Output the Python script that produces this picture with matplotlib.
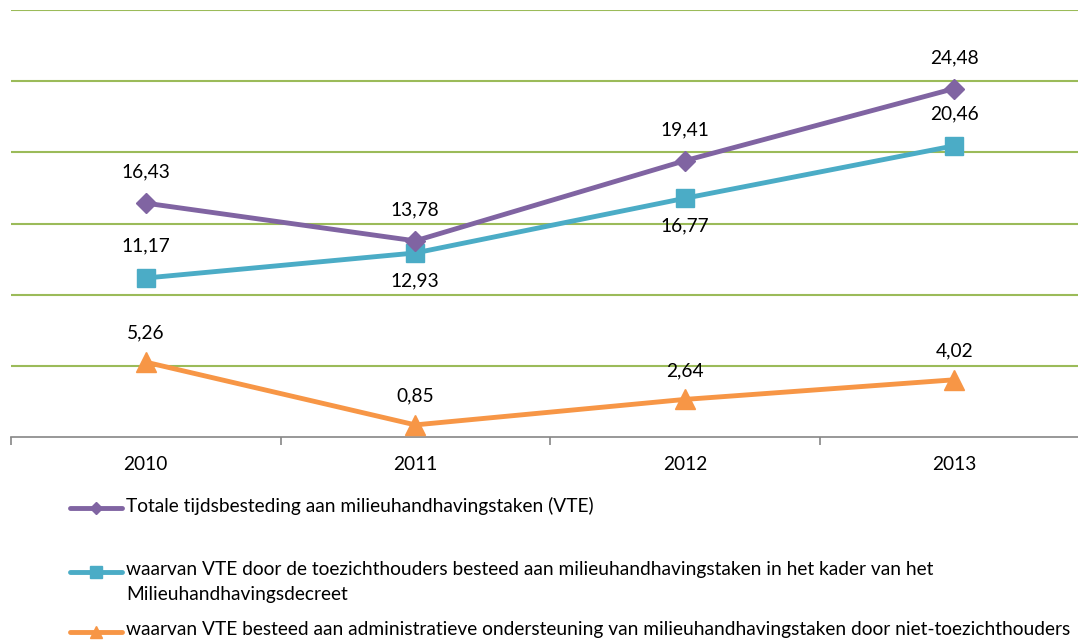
import numpy as np
import matplotlib.pyplot as plt
from matplotlib.lines import Line2D

plt.rcParams['font.family'] = ['Lato', 'DejaVu Sans']

years = ['2010', '2011', '2012', '2013']
totaal = [16.43, 13.78, 19.41, 24.48]
toezicht = [11.17, 12.93, 16.77, 20.46]
admin = [5.26, 0.85, 2.64, 4.02]

names = ['Totale tijdsbesteding aan milieuhandhavingstaken (VTE)',
         'waarvan VTE door de toezichthouders besteed aan milieuhandhavingstaken in het kader van het\nMilieuhandhavingsdecreet',
         'waarvan VTE besteed aan administratieve ondersteuning van milieuhandhavingstaken door niet-toezichthouders']

purple = '#8064A2'
teal = '#4BACC6'
orange = '#F79646'
fs = 13.8

W, H = 1078, 642
fig = plt.figure(figsize=(W / 100, H / 100), dpi=100)
ax = fig.add_axes([11 / W, (H - 437) / H, 1078 / W, 427 / H])

x = np.arange(len(years))
ax.plot(x, totaal, color=purple, lw=3.5, marker='D', ms=10, zorder=4)
ax.plot(x, toezicht, color=teal, lw=3.5, marker='s', ms=13, zorder=3)
ax.plot(x, admin, color=orange, lw=3.5, marker='^', ms=14, zorder=3)

def lbl(v, i, dy):
    ax.annotate(f'{v:.2f}'.replace('.', ','), (i, v), xytext=(0, dy),
                textcoords='offset pixels', ha='center', va='center', fontsize=fs)

for i, v in enumerate(totaal):
    lbl(v, i, 31)
for i, v in enumerate(toezicht):
    lbl(v, i, 32 if i in (0, 3) else -28)
for i, v in enumerate(admin):
    lbl(v, i, 29)

ax.set_xlim(-0.5, 3.5)
ax.set_ylim(0, 30)
for yv in range(5, 31, 5):
    ax.axhline(yv, color='#9BBB59', lw=1.5, zorder=1)

for s in ['top', 'right', 'left']:
    ax.spines[s].set_visible(False)
ax.spines['bottom'].set_color('#868686')
ax.spines['bottom'].set_linewidth(1.2)
ax.set_yticks([])
ax.set_xticks(np.arange(-0.5, 3.6, 1))
ax.set_xticklabels([])
ax.set_xticks(x, minor=True)
ax.set_xticklabels(years, minor=True, fontsize=fs)
ax.tick_params(axis='x', which='major', length=6, color='#868686', width=1.2)
ax.tick_params(axis='x', which='minor', length=0, pad=14)

# legend
rows = [508, 572, 632]
styles = [(purple, 'D', 6), (teal, 's', 8), (orange, '^', 9)]
for yy, (c, m, s), name in zip(rows, styles, names):
    yf = 1 - yy / H
    fig.add_artist(Line2D([70 / W, 122 / W], [yf, yf], color=c, lw=3.5,
                          transform=fig.transFigure, solid_capstyle='round'))
    fig.add_artist(Line2D([96 / W], [yf], color=c, marker=m, ms=s,
                          transform=fig.transFigure))
    fig.text(126 / W, yf + 11 / H, name, fontsize=fs, va='top', ha='left',
             linespacing=1.55, transform=fig.transFigure)

fig.savefig('out.png', dpi=100)
